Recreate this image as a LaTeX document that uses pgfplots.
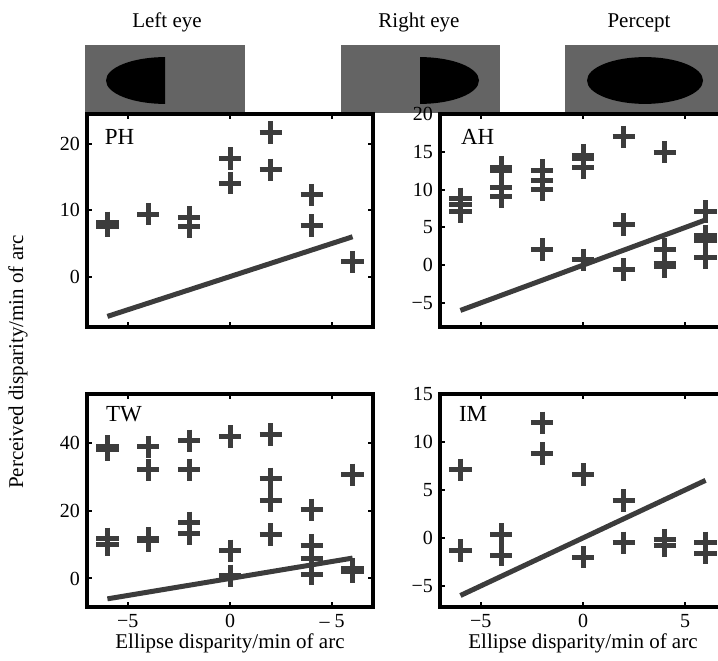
\documentclass[border=0pt]{standalone}
\usepackage{fontspec}
\setmainfont{Liberation Serif}
\usepackage{pgfplots}
\pgfplotsset{compat=1.18}
\definecolor{mk}{RGB}{60,60,60}
\definecolor{stim}{RGB}{100,100,100}
\tikzset{plab/.style={anchor=base west, font=\fontsize{11.5}{12}\selectfont}}
\pgfplotsset{
  panel/.style={
    scale only axis, width=143pt, height=106.5pt, anchor=south west,
    xmin=-7, xmax=7, xtick={-5,0,5},
    axis line style={line width=2pt, black},
    tick align=inside, major tick length=2.5pt,
    tick style={black, line width=1pt},
    font=\fontsize{10}{12}\selectfont,
    ticklabel style={font=\fontsize{10}{12}\selectfont},
    xlabel style={font=\fontsize{10.5}{12}\selectfont, yshift=4pt},
    clip=false,
  },
  dat/.style={only marks, mark=+, mark size=5.6pt, color=mk,
    mark options={line width=2.5pt, mk}},
  fit/.style={mk, line width=2.5pt, no marks},
}
\begin{document}
\begin{tikzpicture}
\useasboundingbox (0,0) rectangle (359pt,330pt);
\clip (0,0) rectangle (359pt,330pt);
% stimuli
\fill[stim] (42.5pt,273.5pt) rectangle (122.5pt,307.5pt);
\begin{scope}
\clip (40pt,270pt) rectangle (82.5pt,310pt);
\fill[black] (82.5pt,289.75pt) ellipse [x radius=29.5pt, y radius=11.7pt];
\end{scope}
\fill[stim] (170.5pt,273.5pt) rectangle (250pt,307.5pt);
\begin{scope}
\clip (210pt,270pt) rectangle (250pt,310pt);
\fill[black] (210pt,289.75pt) ellipse [x radius=29.5pt, y radius=11.7pt];
\end{scope}
\fill[stim] (282.5pt,273.5pt) rectangle (362.5pt,307.5pt);
\fill[black] (322.5pt,289.75pt) ellipse [x radius=29pt, y radius=11.7pt];
\node[anchor=base, font=\fontsize{10.5}{12}\selectfont] at (83.5pt,316pt) {Left eye};
\node[anchor=base, font=\fontsize{10.5}{12}\selectfont] at (209.5pt,316pt) {Right eye};
\node[anchor=base, font=\fontsize{10.5}{12}\selectfont] at (319.5pt,316pt) {Percept};
\node[rotate=90, font=\fontsize{10.5}{12}\selectfont] at (9pt,149pt) {Perceived disparity/min of arc};

% PH
\begin{axis}[panel, at={(43.5pt,166.5pt)}, ymin=-7.6, ymax=24.5,
  ytick={0,10,20}, yticklabels={0,10,20}, xticklabels={}]
\addplot[dat] coordinates {(-6,7.6)(-6,8.1)(-4,9.4)(-2,8.9)(-2,7.5)(0,17.8)(0,14.1)(2,21.7)(2,16.1)(4,12.3)(4,7.7)(6,2.2)};
\addplot[fit] coordinates {(-6,-6)(6,6)};
\node[plab] at (rel axis cs:0.038,0.859) {PH};
\end{axis}

% AH
\begin{axis}[panel, at={(220pt,166.5pt)}, ymin=-8.2, ymax=20.05,
  ytick={-5,0,5,10,15,20}, yticklabels={−5,0,5,10,15,20}, xticklabels={}]
\addplot[dat] coordinates {(-6,8.8)(-6,8.0)(-6,7.1)(-4,13.0)(-4,12.5)(-4,10.3)(-4,9.1)(-2,12.6)(-2,11.2)(-2,10.0)(-2,2.1)(0,14.6)(0,14.1)(0,12.9)(0,0.7)(2,17.0)(2,5.4)(2,-0.6)(4,15.0)(4,2.1)(4,0.2)(4,-0.2)(6,7.1)(6,3.9)(6,3.3)(6,1.0)};
\addplot[fit] coordinates {(-6,-6)(6,6)};
\node[plab] at (rel axis cs:0.049,0.859) {AH};
\end{axis}

% TW
\begin{axis}[panel, at={(43.5pt,26.5pt)}, ymin=-8.4, ymax=54.3,
  ytick={0,20,40}, yticklabels={0,20,40}, xticklabels={−5,0,– 5},
  xlabel={Ellipse disparity/min of arc}]
\addplot[dat] coordinates {(-6,38.8)(-6,38.0)(-6,11.7)(-6,10.0)(-4,38.7)(-4,32.0)(-4,11.8)(-4,11.2)(-2,40.5)(-2,32.0)(-2,16.4)(-2,13.2)(0,41.8)(0,8.1)(0,0.8)(2,42.4)(2,29.3)(2,22.9)(2,13.0)(4,20.2)(4,9.8)(4,5.9)(4,1.3)(6,30.5)(6,2.8)(6,2.0)};
\addplot[fit] coordinates {(-6,-6)(6,6)};
\node[plab] at (rel axis cs:0.042,0.873) {TW};
\end{axis}

% IM
\begin{axis}[panel, at={(220pt,26.5pt)}, ymin=-7.2, ymax=15,
  ytick={-5,0,5,10,15}, yticklabels={−5,0,5,10,15}, xticklabels={−5,0,5},
  xlabel={Ellipse disparity/min of arc}]
\addplot[dat] coordinates {(-6,7.1)(-6,-1.3)(-4,0.35)(-4,-1.8)(-2,12.0)(-2,8.8)(0,6.6)(0,-2.0)(2,3.9)(2,-0.5)(4,-0.2)(4,-0.8)(6,-0.5)(6,-1.6)};
\addplot[fit] coordinates {(-6,-6)(6,6)};
\node[plab] at (rel axis cs:0.042,0.873) {IM};
\end{axis}
\end{tikzpicture}
\end{document}
